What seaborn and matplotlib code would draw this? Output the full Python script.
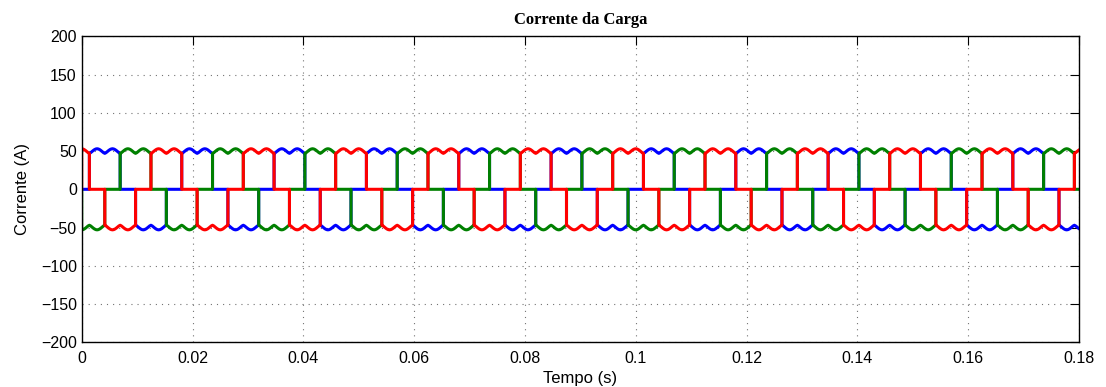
import numpy as np
import pandas as pd
import matplotlib
matplotlib.use("Agg")
import matplotlib.pyplot as plt
import seaborn as sns
from matplotlib.ticker import FuncFormatter

# ---------------- data ----------------
FREQ_HZ = 60.0                  # fundamental (period ~ 0.01667 s)
T_END = 0.18                    # end of the plotted window (s)
SEG_DEG = 60                    # six-pulse: one conduction step = 60 deg
FIRST_EDGE_DEG = 30             # first commutation edge
SAMPLE_STEP_DEG = 5
# current magnitude across one 60-deg step (A): dip at edges, hump mid-step
RIPPLE_A = [47.0, 47.9, 49.3, 50.7, 51.9, 52.7, 53.0,
            52.7, 51.9, 50.7, 49.3, 47.9, 47.0]
# conduction pattern of a phase over six steps (+, +, 0, -, -, 0)
STATE_SEQ = [1, 1, 0, -1, -1, 0]
PHASES = ["Fase A", "Fase B", "Fase C"]
PHASE_SHIFT_SEG = [0, 2, 4]
COLORS = ["#0000ff", "#008000", "#ff0000"]
X_TICKS = [0, 0.02, 0.04, 0.06, 0.08, 0.10, 0.12, 0.14, 0.16, 0.18]
Y_TICKS = [-200, -150, -100, -50, 0, 50, 100, 150, 200]

# ---------------- build the long-form table ----------------
rows = []
n_seg = int(np.ceil(T_END * FREQ_HZ * 360 / SEG_DEG)) + 2
for name, shift in zip(PHASES, PHASE_SHIFT_SEG):
    rows.append((name, 0.0, 0.0))
    for k in range(-1, n_seg):
        state = STATE_SEQ[(k - shift) % 6]
        for j, mag in enumerate(RIPPLE_A):
            theta = FIRST_EDGE_DEG + SEG_DEG * k + SAMPLE_STEP_DEG * j
            t = theta / 360.0 / FREQ_HZ
            if t < -1e-12 or t > T_END + 0.002:
                continue
            rows.append((name, max(t, 0.0), state * mag))
df = pd.DataFrame(rows, columns=["fase", "t", "i"])

# ---------------- plot ----------------
sns.set_theme(style="white")
plt.rcParams["font.family"] = ["Liberation Sans", "DejaVu Sans"]
plt.rcParams["axes.unicode_minus"] = True

fig = plt.figure(figsize=(11.06, 3.87), dpi=100)
ax = fig.add_axes([81.7 / 1106, 1 - 342.3 / 387,
                   (1079 - 81.7) / 1106, (342.3 - 36.3) / 387])

sns.lineplot(data=df, x="t", y="i", hue="fase", hue_order=PHASES,
             palette=COLORS, estimator=None, sort=False, linewidth=2.2,
             legend=False, ax=ax)

ax.set_xlim(0, T_END)
ax.set_ylim(-200, 200)
ax.set_xticks(X_TICKS)
ax.set_yticks(Y_TICKS)
ax.xaxis.set_major_formatter(FuncFormatter(lambda v, p: f"{v:g}"))

ax.grid(True, linestyle=(0, (1, 4.5)), linewidth=0.8, color="0.45")
ax.set_axisbelow(True)
for s in ax.spines.values():
    s.set_visible(True)
    s.set_color("black")
    s.set_linewidth(1.0)

ax.tick_params(axis="both", which="major", direction="in", length=6.5,
               width=0.8, color="black", top=True, right=True,
               labelsize=11.5, labelcolor="black")
ax.tick_params(axis="x", pad=6)
ax.tick_params(axis="y", pad=3.5)

ax.set_xlabel("Tempo (s)", fontsize=12, labelpad=4, color="black")
ax.set_ylabel("Corrente (A)", fontsize=12, labelpad=8, color="black")
ax.set_title("Corrente da Carga", fontsize=12, fontweight="bold",
             family=["Liberation Serif", "DejaVu Serif"], pad=9,
             color="black")

fig.savefig("out.png", dpi=100, facecolor="white")
